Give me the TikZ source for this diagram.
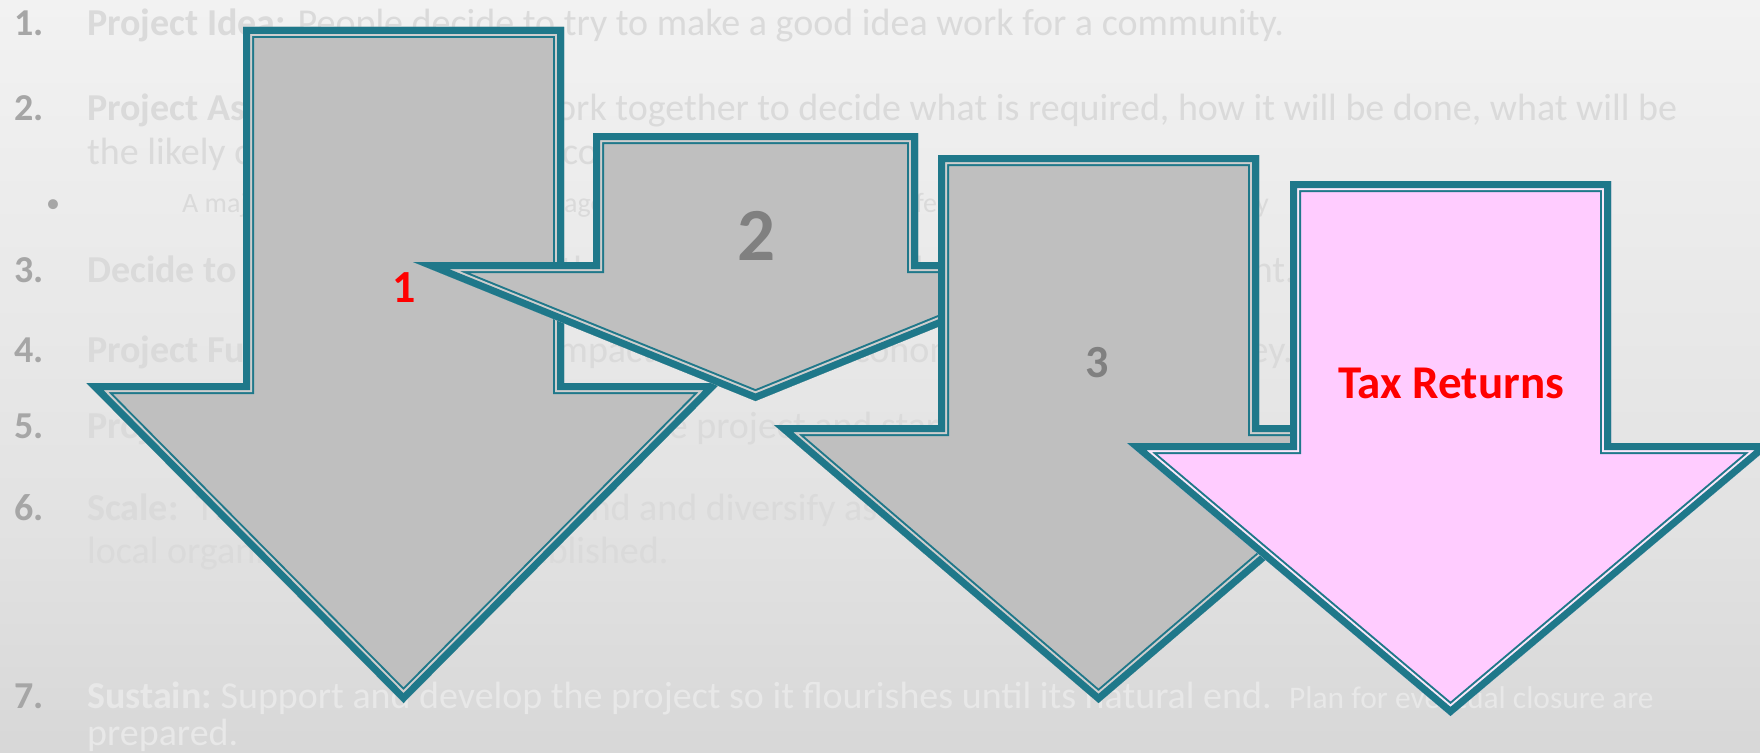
\documentclass[tikz,border=0pt]{standalone}
\usepackage{fontspec}
\setmainfont{Carlito}
\usepackage{tikz}

\definecolor{arrowteal}{RGB}{31,120,138}
\definecolor{arrowgrey}{RGB}{191,191,191}
\definecolor{arrowgap}{RGB}{206,206,206}
\definecolor{taxpink}{RGB}{255,204,255}
\definecolor{taxgap}{RGB}{250,232,250}
\definecolor{listgray}{RGB}{218,218,218}
\definecolor{listlight}{RGB}{232,232,232}
\definecolor{numgray}{RGB}{166,166,166}
\definecolor{labelgray}{RGB}{128,128,128}
\definecolor{backtop}{RGB}{233,233,233}
\definecolor{backlight}{RGB}{242,242,242}
\definecolor{backmid}{RGB}{226,226,226}
\definecolor{backbottom}{RGB}{198,198,198}

\pgfdeclareverticalshading{slideback}{100bp}{color(0bp)=(backbottom); color(40bp)=(backmid); color(75bp)=(backlight); color(100bp)=(backtop)}

\newcommand{\arrowshape}[6]{(#1-#2,#3) -- (#1+#2,#3) -- (#1+#2,#4) -- (#1+#5,#4) -- (#1,#6) -- (#1-#5,#4) -- (#1-#2,#4) -- cycle}

\newcommand{\slidearrow}[8]{%
  \begin{scope}
    \clip \arrowshape{#3}{#4}{#5}{#6}{#7}{#8};
    \fill[#1] \arrowshape{#3}{#4}{#5}{#6}{#7}{#8};
    \draw[arrowteal, line width=22pt] \arrowshape{#3}{#4}{#5}{#6}{#7}{#8};
    \draw[#2, line width=18pt] \arrowshape{#3}{#4}{#5}{#6}{#7}{#8};
    \draw[arrowteal, line width=14pt] \arrowshape{#3}{#4}{#5}{#6}{#7}{#8};
  \end{scope}}

\begin{document}
\begin{tikzpicture}[x=1pt,y=-1pt,
    listtext/.style={anchor=base west, inner sep=0pt, text=listgray, font=\fontsize{38}{45}\selectfont},
    listnum/.style={listtext, text=numgray, font=\fontsize{38}{45}\selectfont\bfseries},
    smalltext/.style={listtext, font=\fontsize{28}{34}\selectfont},
    arrowlabel/.style={inner sep=0pt, font=\bfseries}]
\useasboundingbox (0,0) rectangle (1760,752);
\fill[shading=slideback] (0,0) rectangle (1760,752);

\foreach \n/\y in {1/36, 2/120, 3/282, 4/362, 5/438, 6/520, 7/708}{
    \node[listnum] (num\n) at (14,\y) {\n.};
}

\node[listtext] (idea) at (87,36) {\textbf{Project Idea:} People decide to try to make a good idea work for a community.};
\node[listtext] (appraisal) at (87,120) {\textbf{Project Assessment:} People work together to decide what is required, how it will be done, what will be};
\node[listtext] (appraisalb) at (87,164) {the likely costs and benefits to community members.};
\node[smalltext, text=numgray] (dot) at (46,212) {\textbullet};
\node[smalltext] (major) at (182,212) {A major decision point is at this stage, where we complete a pre-feasibility study and any survey};
\node[listtext] (decide) at (87,282) {\textbf{Decide to Proceed:} Agree whether to go ahead with the project development.};
\node[listtext] (funding) at (87,362) {\textbf{Project Funding:} Assess a full impact and all the economics, then raise money.};
\node[listtext] (delivery) at (87,438) {\textbf{Project Delivery:} Build, and deliver the project and start operations.};
\node[listtext] (scale) at (87,520) {\textbf{Scale:}\ \ The project can now expand and diversify as new groups and};
\node[listtext] (scaleb) at (87,563) {local organisations are all established.};
\node[listtext, text=listlight] (sustain) at (87,708) {\textbf{Sustain:}\ Support and develop the project so it flourishes until its natural end.\ \ {\fontsize{31.5}{36}\selectfont Plan for eventual closure are}};
\node[listtext, text=listlight] (sustainb) at (87,745) {prepared.};

\slidearrow{arrowgrey}{arrowgap}{403.5}{160.5}{27}{383}{317}{703}
\node[arrowlabel, text=red, font=\fontsize{46}{50}\selectfont\bfseries] (one) at (404,288) {1};

\slidearrow{arrowgrey}{arrowgap}{755.5}{162.5}{133}{262}{342.5}{401}
\node[arrowlabel, text=labelgray, font=\fontsize{75}{80}\selectfont\bfseries] (two) at (756,236) {2};

\slidearrow{arrowgrey}{arrowgap}{1098.5}{160.5}{155}{425}{324.5}{703}
\node[arrowlabel, text=labelgray, font=\fontsize{46}{50}\selectfont\bfseries] (three) at (1097,363) {3};

\slidearrow{taxpink}{taxgap}{1450.5}{160.5}{181}{443}{323.5}{716}
\node[arrowlabel, text=red, font=\fontsize{47}{52}\selectfont\bfseries] (tax) at (1451,383) {Tax Returns};
\end{tikzpicture}
\end{document}
